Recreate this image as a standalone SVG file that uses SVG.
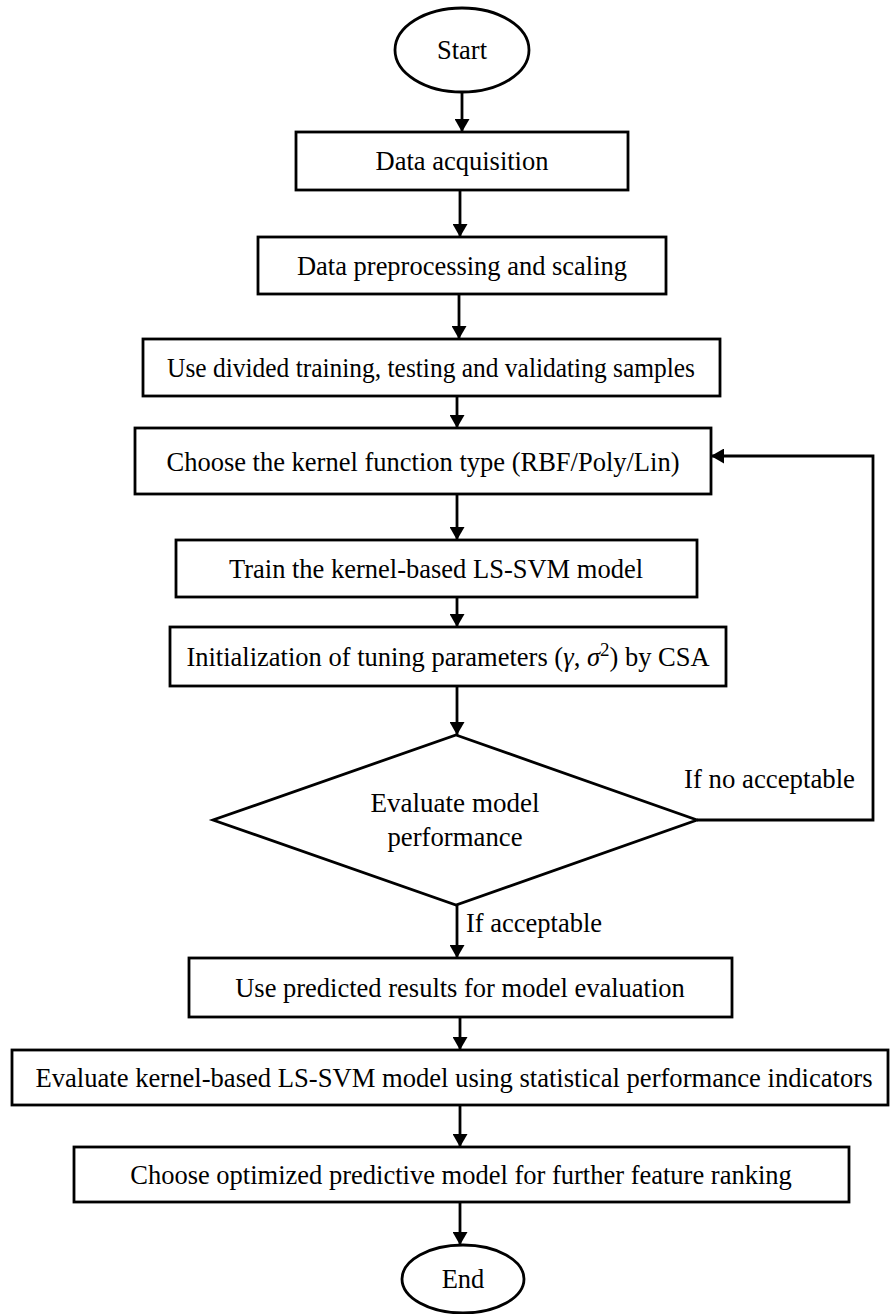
<svg xmlns="http://www.w3.org/2000/svg" width="890" height="1314" viewBox="0 0 890 1314">
  <defs>
    <marker id="arrow" viewBox="0 0 13 15" refX="13" refY="7.5" markerWidth="13" markerHeight="15" markerUnits="userSpaceOnUse" orient="auto">
      <path d="M0,0 L13,7.5 L0,15 Z" fill="#000"/>
    </marker>
    <style>
      .shape { fill: #fff; stroke: #000; stroke-width: 2.8; }
      .label { font-family: "Liberation Serif", "Times New Roman", serif; font-size: 26.5px; fill: #000; text-anchor: middle; }
      .note { font-family: "Liberation Serif", "Times New Roman", serif; font-size: 26.5px; fill: #000; }
      .math { font-style: italic; }
      .edge { fill: none; stroke: #000; stroke-width: 2.8; marker-end: url(#arrow); }
    </style>
  </defs>
  <rect width="890" height="1314" fill="#fff"/>

  <!-- flow connectors and their branch labels -->
  <g id="connectors">
    <line class="edge" x1="462" y1="92" x2="462" y2="132"/>
    <line class="edge" x1="460" y1="190" x2="460" y2="237"/>
    <line class="edge" x1="459" y1="294" x2="459" y2="339"/>
    <line class="edge" x1="457" y1="396" x2="457" y2="428"/>
    <line class="edge" x1="457" y1="494" x2="457" y2="540"/>
    <line class="edge" x1="457" y1="597" x2="457" y2="627"/>
    <line class="edge" x1="457" y1="686" x2="457" y2="735"/>
    <line class="edge" x1="457" y1="905" x2="457" y2="958"/>
    <line class="edge" x1="460" y1="1017" x2="460" y2="1050"/>
    <line class="edge" x1="460" y1="1105" x2="460" y2="1147"/>
    <line class="edge" x1="460" y1="1202" x2="460" y2="1245"/>
    <polyline class="edge" points="697,820 873,820 873,456 711,456"/>
    <text class="note" x="684" y="788" textLength="171" lengthAdjust="spacingAndGlyphs">If no acceptable</text>
    <text class="note" x="466" y="932">If acceptable</text>
  </g>

  <g id="start">
    <ellipse class="shape" cx="462" cy="50" rx="67" ry="42"/>
    <text class="label" x="462" y="59" font-size="27">Start</text>
  </g>
  <g id="data-acquisition">
    <rect class="shape" x="296" y="132" width="332" height="58"/>
    <text class="label" x="462" y="170">Data acquisition</text>
  </g>
  <g id="preprocessing">
    <rect class="shape" x="258" y="237" width="408" height="57"/>
    <text class="label" x="462" y="275" font-size="27" textLength="330" lengthAdjust="spacingAndGlyphs">Data preprocessing and scaling</text>
  </g>
  <g id="split-samples">
    <rect class="shape" x="143" y="339" width="577" height="57"/>
    <text class="label" x="431" y="377" font-size="27" textLength="528" lengthAdjust="spacingAndGlyphs">Use divided training, testing and validating samples</text>
  </g>
  <g id="kernel-choice">
    <rect class="shape" x="135" y="428" width="576" height="66"/>
    <text class="label" x="423" y="471" font-size="27.5">Choose the kernel function type (RBF/Poly/Lin)</text>
  </g>
  <g id="train-model">
    <rect class="shape" x="176" y="540" width="521" height="57"/>
    <text class="label" x="436" y="578" font-size="28.5">Train the kernel-based LS-SVM model</text>
  </g>
  <g id="init-params">
    <rect class="shape" x="170" y="627" width="556" height="59"/>
    <text class="label" x="448" y="666" font-size="27.5">Initialization of tuning parameters (<tspan class="math">γ</tspan>, <tspan class="math">σ</tspan><tspan font-size="19" dy="-10">2</tspan><tspan dy="10">) by CSA</tspan></text>
  </g>
  <g id="evaluate-performance">
    <polygon class="shape" points="456,735 697,820 456,905 213,820"/>
    <text class="label" x="455" y="812" font-size="27.5" textLength="169" lengthAdjust="spacingAndGlyphs">Evaluate model</text>
    <text class="label" x="455" y="846" font-size="27.5" textLength="135" lengthAdjust="spacingAndGlyphs">performance</text>
  </g>
  <g id="predicted-results">
    <rect class="shape" x="189" y="958" width="543" height="59"/>
    <text class="label" x="460" y="997" font-size="27">Use predicted results for model evaluation</text>
  </g>
  <g id="statistical-evaluation">
    <rect class="shape" x="12" y="1050" width="876" height="55"/>
    <text class="label" x="454" y="1087" font-size="27" textLength="837" lengthAdjust="spacingAndGlyphs">Evaluate kernel-based LS-SVM model using statistical performance indicators</text>
  </g>
  <g id="choose-model">
    <rect class="shape" x="74" y="1147" width="775" height="55"/>
    <text class="label" x="461" y="1184" font-size="27.5">Choose optimized predictive model for further feature ranking</text>
  </g>
  <g id="end">
    <ellipse class="shape" cx="463" cy="1279" rx="61" ry="34"/>
    <text class="label" x="463" y="1288">End</text>
  </g>
</svg>
